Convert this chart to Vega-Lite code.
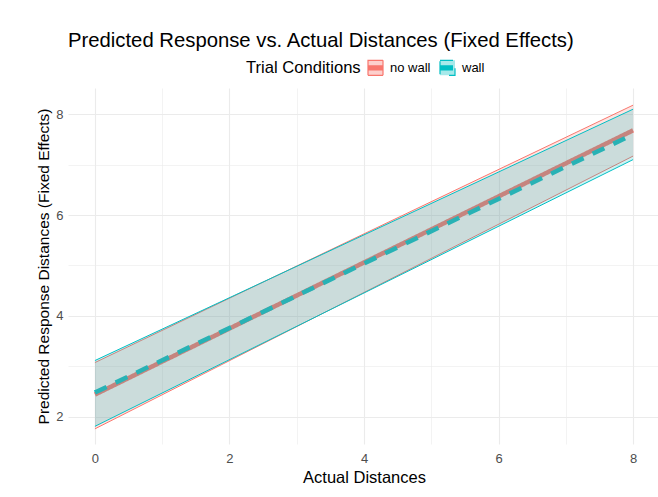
{
  "$schema": "https://vega.github.io/schema/vega-lite/v6.json",
  "width": 592,
  "height": 356,
  "autosize": {"type": "none"},
  "padding": {"left": 68, "top": 88, "right": 0, "bottom": 53},
  "background": "white",
  "title": {
    "text": "Predicted Response vs. Actual Distances (Fixed Effects)",
    "anchor": "start",
    "frame": "group",
    "font": "Liberation Sans",
    "fontSize": 20.3,
    "fontWeight": "normal",
    "color": "black",
    "offset": 8
  },
  "data": {
    "values": [
      {"condition": "no wall", "x": 0, "fit": 2.44, "lower": 1.76, "upper": 3.075},
      {"condition": "no wall", "x": 8, "fit": 7.68, "lower": 7.17, "upper": 8.18},
      {"condition": "wall", "x": 0, "fit": 2.48, "lower": 1.81, "upper": 3.115},
      {"condition": "wall", "x": 8, "fit": 7.6, "lower": 7.1, "upper": 8.1}
    ]
  },
  "encoding": {
    "x": {
      "field": "x", "type": "quantitative", "title": "Actual Distances",
      "scale": {"domain": [-0.4, 8.4], "nice": false, "zero": false},
      "axis": {
        "values": [0, 1, 2, 3, 4, 5, 6, 7, 8],
        "format": "d",
        "labelExpr": "datum.value % 2 == 0 ? datum.label : ''",
        "gridWidth": {"condition": {"test": "datum.value % 2 == 1", "value": 0.6}, "value": 1.1},
        "labelPadding": 8,
        "titlePadding": 4
      }
    },
    "color": {
      "field": "condition", "type": "nominal", "title": "Trial Conditions",
      "scale": {"domain": ["no wall", "wall"], "range": ["#F8766D", "#00BFC4"]},
      "legend": {
        "orient": "none",
        "direction": "horizontal",
        "legendX": 178,
        "legendY": -29,
        "titleOrient": "left",
        "titleFont": "Liberation Sans",
        "titleFontSize": 16.6,
        "titleFontWeight": "normal",
        "titleColor": "black",
        "titlePadding": 6,
        "labelFont": "Liberation Sans",
        "labelFontSize": 13,
        "labelColor": "black",
        "labelOffset": 6,
        "columnPadding": 6,
        "symbolType": "M-1,-1H1V1H-1Z M-1,-0.27H1 M-1,-0.13H1 M-1,0H1 M-1,0.13H1 M-1,0.27H1",
        "symbolSize": 225,
        "symbolStrokeWidth": 1.2,
        "encode": {
          "symbols": {
            "update": {
              "fillOpacity": {"value": 0.35},
              "strokeOpacity": {"value": 1},
              "opacity": {"value": 1}
            }
          }
        }
      }
    }
  },
  "layer": [
    {
      "mark": {"type": "line", "strokeWidth": 4.5, "strokeCap": "butt"},
      "encoding": {
        "y": {
          "field": "fit", "type": "quantitative", "title": "Predicted Response Distances (Fixed Effects)",
          "scale": {"domain": [1.46, 8.52], "nice": false, "zero": false},
          "axis": {
            "values": [2, 3, 4, 5, 6, 7, 8],
            "format": "d",
            "labelExpr": "datum.value % 2 == 0 ? datum.label : ''",
            "gridWidth": {"condition": {"test": "datum.value % 2 == 1", "value": 0.6}, "value": 1.1},
            "labelPadding": 5,
            "titlePadding": 4,
            "titleFontSize": 15.5
          }
        },
        "strokeDash": {
          "field": "condition", "type": "nominal",
          "scale": {"domain": ["no wall", "wall"], "range": [[1, 0], [13, 10]]},
          "legend": null
        }
      }
    },
    {
      "transform": [{"filter": "datum.condition == 'no wall'"}],
      "mark": {"type": "area", "fillOpacity": 0.2},
      "encoding": {
        "y": {"field": "lower", "type": "quantitative", "title": "Predicted Response Distances (Fixed Effects)"},
        "y2": {"field": "upper"}
      }
    },
    {
      "transform": [{"filter": "datum.condition == 'no wall'"}],
      "mark": {"type": "line", "strokeWidth": 1},
      "encoding": {
        "y": {"field": "upper", "type": "quantitative", "title": "Predicted Response Distances (Fixed Effects)"}
      }
    },
    {
      "transform": [{"filter": "datum.condition == 'no wall'"}],
      "mark": {"type": "line", "strokeWidth": 1},
      "encoding": {
        "y": {"field": "lower", "type": "quantitative", "title": "Predicted Response Distances (Fixed Effects)"}
      }
    },
    {
      "transform": [{"filter": "datum.condition == 'wall'"}],
      "mark": {"type": "area", "fillOpacity": 0.2},
      "encoding": {
        "y": {"field": "lower", "type": "quantitative", "title": "Predicted Response Distances (Fixed Effects)"},
        "y2": {"field": "upper"}
      }
    },
    {
      "transform": [{"filter": "datum.condition == 'wall'"}],
      "mark": {"type": "line", "strokeWidth": 1},
      "encoding": {
        "y": {"field": "upper", "type": "quantitative", "title": "Predicted Response Distances (Fixed Effects)"}
      }
    },
    {
      "transform": [{"filter": "datum.condition == 'wall'"}],
      "mark": {"type": "line", "strokeWidth": 1},
      "encoding": {
        "y": {"field": "lower", "type": "quantitative", "title": "Predicted Response Distances (Fixed Effects)"}
      }
    }
  ],
  "config": {
    "view": {"stroke": null},
    "axis": {
      "domain": false,
      "ticks": false,
      "tickSize": 0,
      "labelFont": "Liberation Sans",
      "labelFontSize": 13,
      "labelColor": "#4d4d4d",
      "labelOverlap": false,
      "labelBound": false,
      "titleFont": "Liberation Sans",
      "titleFontSize": 16.5,
      "titleFontWeight": "normal",
      "titleColor": "black",
      "gridColor": "#ebebeb"
    }
  }
}
